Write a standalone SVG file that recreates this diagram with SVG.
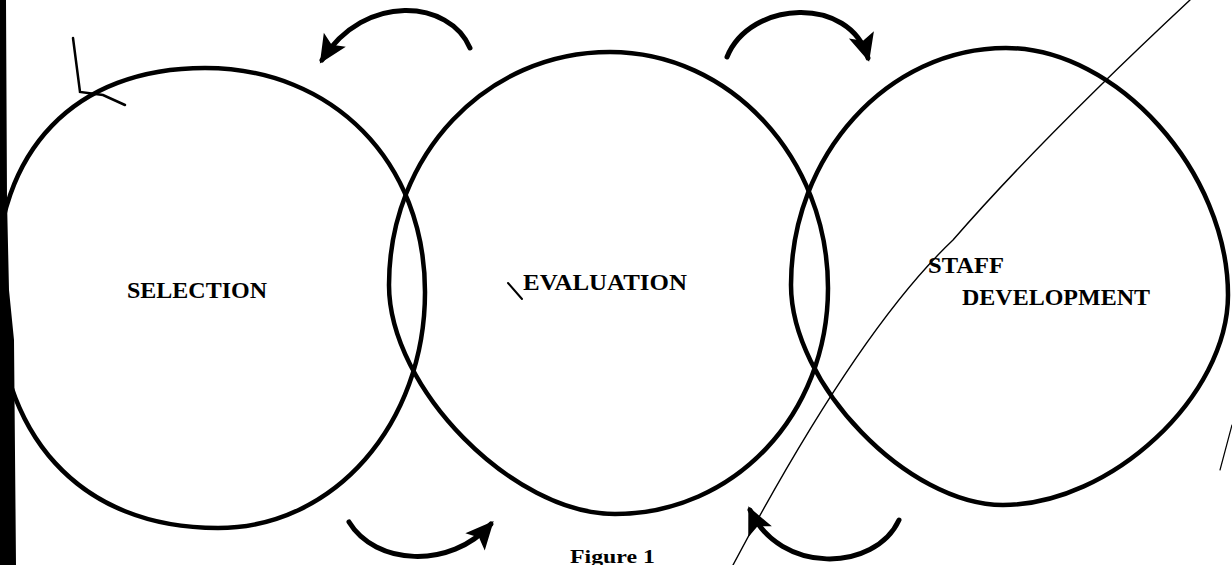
<svg xmlns="http://www.w3.org/2000/svg" width="1232" height="565" viewBox="0 0 1232 565">
<style>
.ring{fill:none;stroke:#000;stroke-width:4.5;stroke-linejoin:round}
.arc{fill:none;stroke:#000;stroke-width:5;stroke-linecap:round}
.lbl{font-family:"Liberation Serif","Times New Roman",serif;font-weight:bold;font-size:24px;fill:#000}
.cap{font-family:"Liberation Serif","Times New Roman",serif;font-weight:bold;font-size:19px;fill:#000}
.mark{fill:none;stroke:#000;stroke-linecap:round}
</style>
<defs>
<marker id="ah" viewBox="-28 -16 34 32" refX="0" refY="0" markerWidth="34" markerHeight="32" orient="auto" markerUnits="userSpaceOnUse">
<path d="M4,0 L-24,-13 L-18,0 L-24,13 Z" fill="#000"/>
</marker>
</defs>
<rect width="1232" height="565" fill="#fff"/>
<polygon points="0,0 6,0 7,200 9,290 14,340 16,565 0,565" fill="#000"/>
<path class="mark" stroke-width="2.5" d="M73,38 L80,92 L103,95 L125,105"/>
<path class="mark" stroke-width="1.4" d="M1190,0 Q1040,140 953,240 Q858,330 733,565"/>
<path class="mark" stroke-width="1.2" d="M1232,425 L1220,470"/>
<path class="mark" stroke-width="2" d="M508,283 L522,299"/>
<g id="selection">
<path class="ring" d="M205,68 C333,68 425,162 425,292 C425,424 334,528 218,528 C80,528 -4,436 -4,285 C-4,150 75,68 205,68 Z"/>
<text class="lbl" x="127" y="298" textLength="140" lengthAdjust="spacingAndGlyphs">SELECTION</text>
</g>
<g id="evaluation">
<path class="ring" d="M610,52 C730,52 828,158 828,288 C828,415 734,514 615,514 C513,514 389,388 389,285 C389,155 486,52 610,52 Z"/>
<text class="lbl" x="523" y="290" textLength="164" lengthAdjust="spacingAndGlyphs">EVALUATION</text>
</g>
<g id="staff-development">
<path class="ring" d="M1006,48 C1117,48 1228,172 1228,295 C1228,396 1111,505 1003,505 C908,505 791,384 791,285 C791,155 888,48 1006,48 Z"/>
<text class="lbl" x="928" y="273" textLength="76" lengthAdjust="spacingAndGlyphs">STAFF</text>
<text class="lbl" x="962" y="305" textLength="188" lengthAdjust="spacingAndGlyphs">DEVELOPMENT</text>
</g>
<g id="connectors">
<path class="arc" marker-end="url(#ah)" d="M470,48 C450,0 365,-8 322,60"/>
<path class="arc" marker-end="url(#ah)" d="M727,57 C750,0 850,-5 868,58"/>
<path class="arc" marker-end="url(#ah)" d="M349,522 C375,565 450,570 491,524"/>
<path class="arc" marker-end="url(#ah)" d="M899,520 C875,572 780,575 750,510"/>
</g>
<text class="cap" x="570" y="563" textLength="85" lengthAdjust="spacingAndGlyphs">Figure 1</text>
</svg>
